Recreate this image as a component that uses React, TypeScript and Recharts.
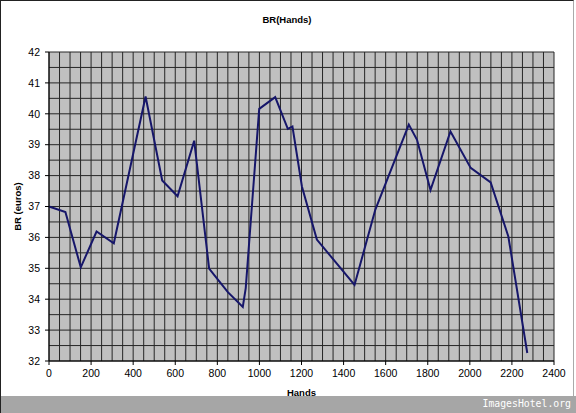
import {
  CartesianGrid,
  Label,
  Line,
  LineChart,
  XAxis,
  YAxis,
} from "recharts";

// hands played vs. BR
const hands = [
  0, 78, 151, 226, 308, 459, 538, 611, 690, 761, 850, 921, 935, 999, 1075,
  1135, 1157, 1202, 1273, 1452, 1551, 1710, 1749, 1813, 1908, 2004, 2099,
  2183, 2273,
];
const br = [
  37.0, 36.82, 35.03, 36.19, 35.81, 40.56, 37.84, 37.33, 39.13, 34.99, 34.23,
  33.75, 34.36, 40.16, 40.54, 39.51, 39.59, 37.65, 35.93, 34.46, 36.9, 39.65,
  39.16, 37.53, 39.43, 38.25, 37.78, 36.03, 32.26,
];

const xTicks = [0, 200, 400, 600, 800, 1000, 1200, 1400, 1600, 1800, 2000, 2200, 2400];
const yTicks = [32, 33, 34, 35, 36, 37, 38, 39, 40, 41, 42];

// minor gridlines (every 50 hands, every 0.5 euro)
const gridX = Array.from({ length: 49 }, (_, i) => i * 50);
const gridY = Array.from({ length: 21 }, (_, i) => 32 + i * 0.5);

const data = hands.map((h, i) => ({ hands: h, br: br[i] }));

const tickStyle = {
  fill: "#000",
  fontSize: 10.5,
  fontFamily: "'Liberation Sans', Arial, sans-serif",
};

export default function App() {
  return (
    <div
      style={{
        position: "absolute",
        left: 0,
        top: 0,
        width: 576,
        height: 413,
        background: "#fff",
        overflow: "hidden",
        fontFamily: "'Liberation Sans', Arial, sans-serif",
      }}
    >
      <div
        style={{
          position: "absolute",
          left: 0,
          top: 0,
          width: 572,
          height: 412,
          borderLeft: "1px solid #222",
          borderTop: "1px solid #222",
          borderRight: "1px solid #aaa",
        }}
      />
      <span
        style={{
          position: "absolute",
          left: 287,
          top: 14,
          transform: "translateX(-50%)",
          fontSize: 9.5,
          fontWeight: "bold",
        }}
      >
        BR(Hands)
      </span>
      <div style={{ position: "absolute", left: 0, top: 0 }}>
        <LineChart
          width={576}
          height={413}
          data={data}
          margin={{ top: 52, right: 22, left: 9, bottom: 17 }}
        >
          <CartesianGrid
            verticalValues={gridX}
            horizontalValues={gridY}
            stroke="#262626"
            strokeWidth={1}
            fill="#c0c0c0"
            fillOpacity={1}
          />
          <XAxis
            dataKey="hands"
            type="number"
            domain={[0, 2400]}
            ticks={xTicks}
            interval={0}
            height={35}
            tickSize={4}
            tickMargin={5}
            stroke="#000"
            tick={tickStyle}
          >
            <Label
              value="Hands"
              position="insideBottom"
              offset={0}
              style={{ fontSize: 9.5, fontWeight: "bold", fill: "#000" }}
            />
          </XAxis>
          <YAxis
            type="number"
            domain={[32, 42]}
            ticks={yTicks}
            interval={0}
            width={40}
            tickSize={4}
            tickMargin={5}
            stroke="#000"
            tick={tickStyle}
          >
            <Label
              value="BR (euros)"
              angle={-90}
              position="insideLeft"
              offset={9}
              style={{ fontSize: 9.5, fontWeight: "bold", fill: "#000", textAnchor: "middle" }}
            />
          </YAxis>
          <Line
            type="linear"
            dataKey="br"
            stroke="#16166a"
            strokeWidth={2}
            dot={false}
            isAnimationActive={false}
          />
        </LineChart>
      </div>
      <div
        style={{
          position: "absolute",
          left: 0,
          top: 396,
          width: 576,
          height: 17,
          background: "#a6a6a6",
          borderLeft: "1px solid #222",
          boxSizing: "border-box",
        }}
      />
      <div
        style={{
          position: "absolute",
          right: 5,
          top: 396,
          lineHeight: "15px",
          fontSize: 9.8,
          color: "#fff",
          fontFamily: "'DejaVu Sans Mono', monospace",
        }}
      >
        ImagesHotel.org
      </div>
    </div>
  );
}
